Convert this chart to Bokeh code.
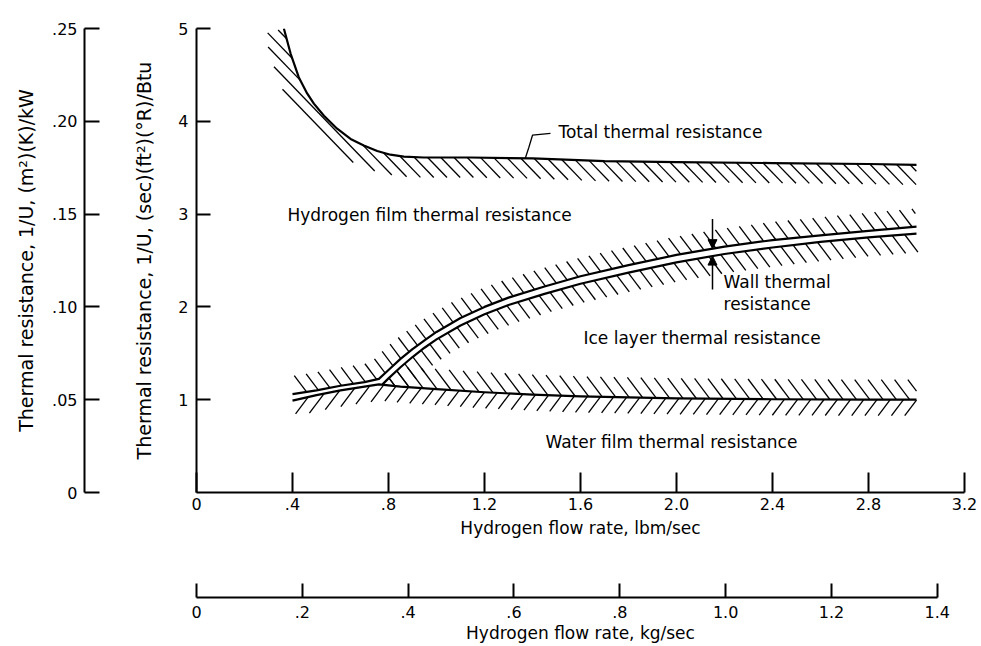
import numpy as np
from bokeh.plotting import figure
from bokeh.layouts import row, column
from bokeh.models import Range1d, FixedTicker, Arrow, NormalHead
from bokeh.embed import file_html
from bokeh.resources import INLINE
from bokeh.core.properties import value

# Hydrogen flow rate (lbm/sec) against thermal resistance 1/U, (sec)(ft^2)(°R)/Btu
total_flow = [0.364, 0.392, 0.426, 0.461, 0.489, 0.531, 0.586, 0.642, 0.697, 0.753, 0.808, 0.864, 0.947,
              1.14, 1.40, 1.70, 2.00, 2.40, 2.80, 3.00]
total_res = [5.00, 4.73, 4.475, 4.30, 4.19, 4.06, 3.92, 3.81, 3.74, 3.68, 3.64, 3.62, 3.61,
             3.61, 3.60, 3.57, 3.56, 3.55, 3.54, 3.53]

# hydrogen side of the wall
wall_hot_flow = [0.40, 0.50, 0.60, 0.70, 0.76, 0.80, 0.85, 0.90, 0.95, 1.00, 1.10, 1.20, 1.30, 1.45, 1.60,
                 1.80, 2.00, 2.20, 2.40, 2.60, 2.80, 3.00]
wall_hot_res = [1.06, 1.10, 1.15, 1.19, 1.225, 1.32, 1.44, 1.545, 1.64, 1.73, 1.88, 2.00, 2.10, 2.22, 2.33,
                2.45, 2.56, 2.65, 2.72, 2.77, 2.82, 2.865]

# ice side of the wall (ice layer present above ~0.77 lbm/sec)
wall_cold_flow = [0.775, 0.80, 0.85, 0.90, 0.95, 1.00, 1.10, 1.20, 1.30, 1.45, 1.60, 1.80, 2.00, 2.20, 2.40,
                  2.60, 2.80, 3.00]
wall_cold_res = [1.165, 1.23, 1.35, 1.46, 1.56, 1.65, 1.80, 1.92, 2.02, 2.14, 2.25, 2.37, 2.48, 2.57, 2.64,
                 2.70, 2.75, 2.79]

# top of the water film
water_flow = [0.40, 0.50, 0.60, 0.70, 0.76, 0.85, 1.00, 1.20, 1.40, 1.60, 1.80, 2.00, 2.40, 2.80, 3.00]
water_res = [0.99, 1.05, 1.10, 1.14, 1.165, 1.14, 1.115, 1.08, 1.055, 1.035, 1.025, 1.015, 1.005, 1.00, 1.00]

lbm_ticks = [0, 0.4, 0.8, 1.2, 1.6, 2.0, 2.4, 2.8, 3.2]
lbm_labels = ["0", ".4", ".8", "1.2", "1.6", "2.0", "2.4", "2.8", "3.2"]
kg_ticks = [0, 0.2, 0.4, 0.6, 0.8, 1.0, 1.2, 1.4]
kg_labels = ["0", ".2", ".4", ".6", ".8", "1.0", "1.2", "1.4"]
res_ticks = [1, 2, 3, 4, 5]
si_ticks = [0, 0.05, 0.10, 0.15, 0.20, 0.25]
si_labels = ["0", ".05", ".10", ".15", ".20", ".25"]

LBM_PER_KG = 2.20462

FONT = "DejaVu Sans"
INK = "black"

# page geometry (pixels)
PAGE_W, PAGE_H = 981, 646
TOP_H = 546
SI_W = 110
FRAME_L, FRAME_R, FRAME_T, FRAME_B = 196, 964, 28, 492
SI_TOP = 18
KG_AXIS_Y = 597
X_MAX, Y_MAX, SI_MAX = 3.2, 5.0, 0.25

KX = (FRAME_R - FRAME_L) / X_MAX
KY = (FRAME_B - FRAME_T) / Y_MAX


def style_axis(ax, tick_in, standoff, label_standoff, tick_size="16px", label_size="17px"):
    ax.axis_line_color = INK
    ax.axis_line_width = 2
    ax.major_tick_line_color = INK
    ax.major_tick_line_width = 2
    ax.major_tick_in = tick_in
    ax.major_tick_out = 0
    ax.minor_tick_line_color = None
    ax.major_label_text_font = FONT
    ax.major_label_text_font_size = tick_size
    ax.major_label_text_color = INK
    ax.major_label_standoff = standoff
    ax.axis_label_text_font = FONT
    ax.axis_label_text_font_size = label_size
    ax.axis_label_text_font_style = "normal"
    ax.axis_label_text_color = INK
    ax.axis_label_standoff = label_standoff


def clean(p):
    p.outline_line_color = None
    p.background_fill_color = "white"
    p.border_fill_color = "white"
    p.grid.visible = False


# ---------- hatched bands along the curves ----------
def band_polygon(xs, ys, side, width_px):
    X = np.asarray(xs, float) * KX
    Y = np.asarray(ys, float) * KY
    dX, dY = np.gradient(X), np.gradient(Y)
    L = np.hypot(dX, dY)
    nx, ny = -dY / L, dX / L          # left-hand normal for increasing x (points upward)
    s = 1.0 if side == "up" else -1.0
    OX, OY = X + s * width_px * nx, Y + s * width_px * ny
    return np.concatenate([X, OX[::-1]]), np.concatenate([Y, OY[::-1]])


def hatch_segments(PX, PY, angle_deg, spacing_px, min_len_px=5.0):
    th = np.radians(angle_deg)
    c, s = np.cos(th), np.sin(th)
    U = PX * c + PY * s
    V = -PX * s + PY * c
    U2, V2 = np.roll(U, -1), np.roll(V, -1)
    out = []
    for k in np.arange(np.ceil(V.min() / spacing_px), np.floor(V.max() / spacing_px) + 1):
        v = k * spacing_px
        m = ((V <= v) & (V2 > v)) | ((V2 <= v) & (V > v))
        if not m.any():
            continue
        t = (v - V[m]) / (V2[m] - V[m])
        u = np.sort(U[m] + t * (U2[m] - U[m]))
        for a, b in zip(u[0::2], u[1::2]):
            if b - a < min_len_px:
                continue
            out.append(((a * c - v * s) / KX, (a * s + v * c) / KY,
                        (b * c - v * s) / KX, (b * s + v * c) / KY))
    return out


def trim(segs, keep):
    res = []
    t = np.linspace(0, 1, 61)
    for x0, y0, x1, y1 in segs:
        xs = x0 + t * (x1 - x0)
        ys = y0 + t * (y1 - y0)
        ok = np.nonzero(keep(xs, ys))[0]
        if len(ok) < 2:
            continue
        i, j = ok[0], ok[-1]
        res.append((xs[i], ys[i], xs[j], ys[j]))
    return res


def draw_hatch(p, xs, ys, side, width_px, angle_deg, keep=None, spacing_px=10.6):
    PX, PY = band_polygon(xs, ys, side, width_px)
    segs = hatch_segments(PX, PY, angle_deg, spacing_px)
    if keep is not None:
        segs = trim(segs, keep)
    if not segs:
        return
    a = np.array(segs)
    p.segment(x0=a[:, 0], y0=a[:, 1], x1=a[:, 2], y1=a[:, 3], line_color=INK, line_width=1.3)


BACK = -53.0   # "\" hatch
FWD = 53.0     # "/" hatch

# ---------- main chart ----------
p = figure(width=PAGE_W - SI_W, height=TOP_H,
           x_range=Range1d(0, X_MAX), y_range=Range1d(0, Y_MAX),
           min_border_left=FRAME_L - SI_W, min_border_right=PAGE_W - FRAME_R,
           min_border_top=FRAME_T, min_border_bottom=TOP_H - FRAME_B,
           toolbar_location=None, output_backend="svg")
clean(p)

xa = p.xaxis[0]
xa.ticker = FixedTicker(ticks=lbm_ticks)
xa.major_label_overrides = dict(zip(lbm_ticks, lbm_labels))
xa.axis_label = "Hydrogen flow rate, lbm/sec"
style_axis(xa, tick_in=20, standoff=5, label_standoff=5)

ya = p.yaxis[0]
ya.ticker = FixedTicker(ticks=res_ticks)
ya.axis_label = "Thermal resistance, 1/U, (sec)(ft\u00b2)(\u00b0R)/Btu"
style_axis(ya, tick_in=14, standoff=8, label_standoff=20, label_size="19px")

wall_cold_start = wall_cold_flow[0]


def below_cold_wall(x, y):
    return (x >= wall_cold_start) & (y <= np.interp(x, wall_cold_flow, wall_cold_res))


def above_water(x, y):
    return y >= np.interp(x, water_flow, water_res)


# hatching
draw_hatch(p, total_flow, total_res, "down", 20, -46.0, spacing_px=9.5)
draw_hatch(p, wall_hot_flow, wall_hot_res, "up", 18, BACK)
draw_hatch(p, wall_cold_flow, wall_cold_res, "down", 19, BACK, keep=above_water)
wf = np.array(water_flow)
wr = np.array(water_res)
sel = wf >= 0.76
draw_hatch(p, wf[sel], wr[sel], "up", 20, BACK, keep=below_cold_wall)
draw_hatch(p, water_flow, water_res, "down", 16, FWD)

# boundary curves
for fx, fy in [(total_flow, total_res), (wall_hot_flow, wall_hot_res),
               (wall_cold_flow, wall_cold_res), (water_flow, water_res)]:
    p.line(fx, fy, line_color=INK, line_width=2.2, line_join="round")

# leader to the total curve
lead_x0 = 1.37
lead_y0 = float(np.interp(lead_x0, total_flow, total_res))
p.line([lead_x0, 1.385, 1.400, 1.475], [lead_y0, 3.72, 3.85, 3.87], line_color=INK, line_width=1.3)

# wall thickness arrows
arrow_x = 2.15
hot_at = float(np.interp(arrow_x, wall_hot_flow, wall_hot_res))
cold_at = float(np.interp(arrow_x, wall_cold_flow, wall_cold_res))
p.add_layout(Arrow(end=NormalHead(size=9, fill_color=INK, line_color=INK, line_width=1),
                   x_start=arrow_x, y_start=hot_at + 0.32, x_end=arrow_x, y_end=hot_at,
                   line_color=INK, line_width=1.5))
p.add_layout(Arrow(end=NormalHead(size=9, fill_color=INK, line_color=INK, line_width=1),
                   x_start=arrow_x, y_start=cold_at - 0.36, x_end=arrow_x, y_end=cold_at,
                   line_color=INK, line_width=1.5))

notes_x = [1.508, 0.379, 2.196, 2.196, 1.6125, 1.454]
notes_y = [3.89, 2.985, 2.27, 2.035, 1.66, 0.54]
notes = ["Total thermal resistance", "Hydrogen film thermal resistance", "Wall thermal",
         "resistance", "Ice layer thermal resistance", "Water film thermal resistance"]
p.text(x=notes_x, y=notes_y, text=notes, text_font=value(FONT), text_font_size="17px",
       text_color=INK, text_baseline="middle", text_align="left")

# ---------- SI resistance scale ----------
si = figure(width=SI_W, height=TOP_H, x_range=Range1d(0, 1), y_range=Range1d(0, SI_MAX),
            x_axis_location=None, y_axis_location="left",
            min_border_left=84, min_border_right=0, min_border_top=SI_TOP,
            min_border_bottom=TOP_H - FRAME_B, toolbar_location=None, output_backend="svg")
clean(si)
sa = si.yaxis[0]
sa.ticker = FixedTicker(ticks=si_ticks)
sa.major_label_overrides = dict(zip(si_ticks, si_labels))
sa.axis_label = "Thermal resistance, 1/U, (m\u00b2)(K)/kW"
style_axis(sa, tick_in=15, standoff=7, label_standoff=12, label_size="19px")

# ---------- kg/sec flow scale ----------
KG_H = PAGE_H - TOP_H
kg_top = KG_AXIS_Y - TOP_H - 20
kg = figure(width=PAGE_W, height=KG_H, x_range=Range1d(0, X_MAX / LBM_PER_KG), y_range=Range1d(0, 1),
            x_axis_location="below", y_axis_location=None,
            min_border_left=FRAME_L, min_border_right=PAGE_W - FRAME_R,
            min_border_top=kg_top, min_border_bottom=PAGE_H - KG_AXIS_Y,
            toolbar_location=None, output_backend="svg")
clean(kg)
ka = kg.xaxis[0]
ka.ticker = FixedTicker(ticks=kg_ticks)
ka.major_label_overrides = dict(zip(kg_ticks, kg_labels))
ka.bounds = (0, 1.4)
ka.axis_label = "Hydrogen flow rate, kg/sec"
style_axis(ka, tick_in=14, standoff=8, label_standoff=2)

layout = column(row(si, p), kg)
open("out.html", "w").write(file_html(layout, INLINE))
